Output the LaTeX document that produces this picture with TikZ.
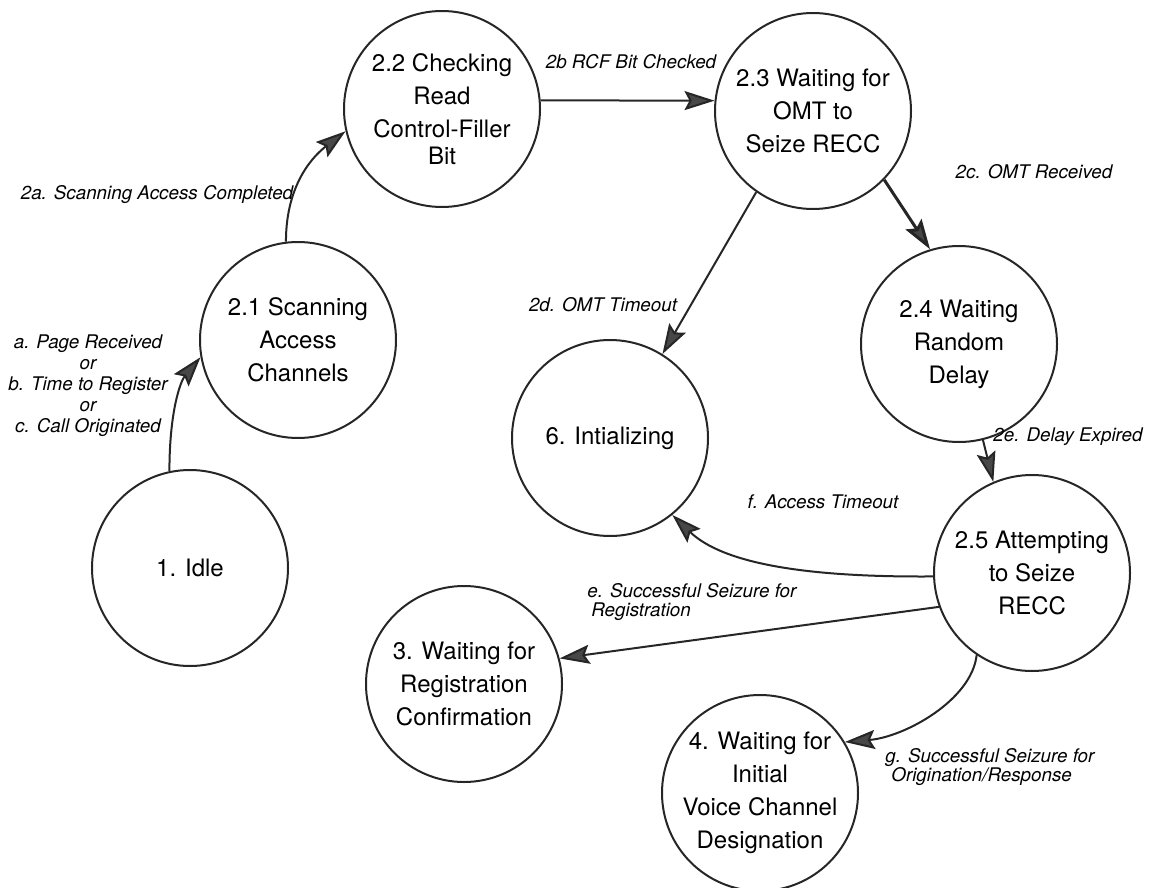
\documentclass[tikz,border=0pt]{standalone}
\usepackage{fontspec}
\setmainfont{TeX Gyre Heros}
\usetikzlibrary{arrows.meta}
\begin{document}
\begin{tikzpicture}[x=0.5pt,y=-0.5pt,
  state/.style={circle,draw=black!85,line width=1pt,minimum size=98pt,
    inner sep=-8pt,align=center,font=\fontsize{12}{16.5}\selectfont},
  lbl/.style={inner sep=0pt,font=\fontsize{9.4}{10.5}\selectfont\itshape},
  tr/.style={draw=black!85,line width=1pt,
    -{Stealth[length=15pt,width=9.5pt,inset=2.5pt,fill=black!72]}},
]
\useasboundingbox (0,0) rectangle (1151,888);

% states
\node[state] (idle) at (190,568) {1. Idle};
\node[state] (s21) at (298,340) {2.1 Scanning\\Access\\Channels};
\node[state] (s22) at (442,109) {2.2 Checking\\Read\\Control-Filler\\[-3pt]Bit};
\node[state] (s23) at (813,111) {2.3 Waiting for\\OMT to\\Seize RECC};
\node[state] (s24) at (959,344) {2.4 Waiting\\Random\\Delay};
\node[state] (s6) at (610,438) {6. Intializing};
\node[state] (s25) at (1032,573) {2.5 Attempting\\to Seize\\RECC};
\node[state] (s3) at (464,684) {3. Waiting for\\Registration\\Confirmation};
\node[state] (s4) at (760,793) {4. Waiting for\\Initial\\Voice Channel\\Designation};

% transitions
\draw[tr] (idle.102) .. controls +(0,-60) and +(-20,24) .. (s21.190);
\draw[tr] (s21.97) .. controls +(0,-60) and +(-30,23) .. (s22.193);
\draw[tr] (s22.5) -- (s23.174);
\draw[tr,line width=1.5pt] (s23.-44) -- (s24.107);
\draw[tr] (s23.235) -- (s6.58);
\draw[tr] (s24.-76) -- (s25.113);
\draw[tr] (s25.182) .. controls +(-130,1) and +(50,48) .. (s6.309);
\draw[tr] (s25.200) -- (s3.15);
\draw[tr] (s25.236) .. controls +(-5,45) and +(60,-5) .. (s4.31);

% transition labels
\node[lbl,align=center] (la) at (88,386)
  {a. Page Received\\or\\b. Time to Register\\or\\c. Call Originated};
\node[lbl] (l2a) at (157,195) {2a. Scanning Access Completed};
\node[lbl] (l2b) at (631,62) {2b RCF Bit Checked};
\node[lbl] (l2c) at (1034,172) {2c. OMT Received};
\node[lbl] (l2d) at (603,305) {2d. OMT Timeout};
\node[lbl] (l2e) at (1068,437) {2e. Delay Expired};
\node[lbl] (lf) at (823,502) {f. Access Timeout};
\node[lbl,align=left,anchor=west,font=\fontsize{9.4}{9.5}\selectfont\itshape] (le) at (587,602)
  {e. Successful Seizure for\\\hspace{2pt}Registration};
\node[lbl,align=left,anchor=west,font=\fontsize{9.4}{9.5}\selectfont\itshape] (lg) at (885,767)
  {g. Successful Seizure for\\\hspace{3pt}Origination/Response};
\end{tikzpicture}
\end{document}
